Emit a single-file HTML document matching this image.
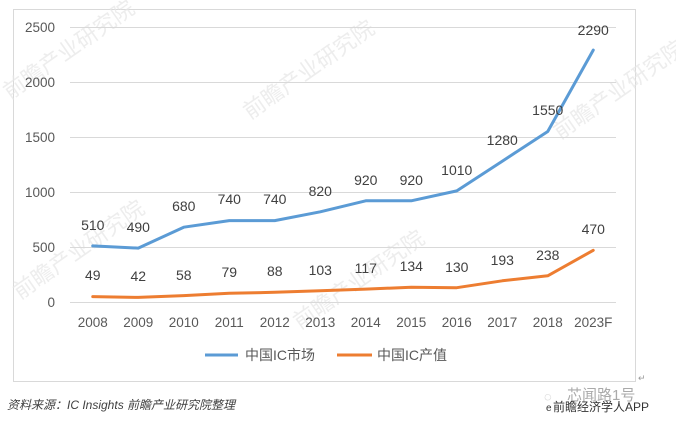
<!DOCTYPE html>
<html><head><meta charset="utf-8"><style>
html,body{margin:0;padding:0;background:#fff;}
svg{display:block;}
text{font-family:"Liberation Sans","Noto Sans CJK SC",sans-serif;}
</style></head><body>
<svg width="676" height="430" viewBox="0 0 676 430" xmlns="http://www.w3.org/2000/svg">
<rect x="0" y="0" width="676" height="430" fill="#fff"/>
<rect x="13.5" y="9.5" width="622" height="372" fill="#fff" stroke="#d9d9d9" stroke-width="1"/>
<!-- watermarks -->
<g fill="#e6e6e6" font-size="22" opacity="0.7">
<text x="10" y="100" transform="rotate(-35 10 100)">前瞻产业研究院</text>
<text x="250" y="120" transform="rotate(-35 250 120)">前瞻产业研究院</text>
<text x="560" y="140" transform="rotate(-35 560 140)">前瞻产业研究院</text>
<text x="20" y="300" transform="rotate(-35 20 300)">前瞻产业研究院</text>
<text x="300" y="330" transform="rotate(-35 300 330)">前瞻产业研究院</text>
</g>
<!-- gridlines -->
<g stroke="#d9d9d9" stroke-width="1">
<line x1="70" y1="27.5" x2="616" y2="27.5"/>
<line x1="70" y1="82.5" x2="616" y2="82.5"/>
<line x1="70" y1="137.5" x2="616" y2="137.5"/>
<line x1="70" y1="192.5" x2="616" y2="192.5"/>
<line x1="70" y1="247.5" x2="616" y2="247.5"/>
<line x1="70" y1="302.5" x2="616" y2="302.5"/>
</g>
<!-- y labels -->
<g fill="#595959" font-size="13.5" text-anchor="end">
<text x="55" y="32">2500</text>
<text x="55" y="87">2000</text>
<text x="55" y="142">1500</text>
<text x="55" y="197">1000</text>
<text x="55" y="252">500</text>
<text x="55" y="307">0</text>
</g>
<!-- x labels -->
<g fill="#595959" font-size="13.5" text-anchor="middle">
<text x="92.75" y="327">2008</text>
<text x="138.25" y="327">2009</text>
<text x="183.75" y="327">2010</text>
<text x="229.25" y="327">2011</text>
<text x="274.75" y="327">2012</text>
<text x="320.25" y="327">2013</text>
<text x="365.75" y="327">2014</text>
<text x="411.25" y="327">2015</text>
<text x="456.75" y="327">2016</text>
<text x="502.25" y="327">2017</text>
<text x="547.75" y="327">2018</text>
<text x="593.25" y="327">2023F</text>
</g>
<!-- series -->
<polyline fill="none" stroke="#5b9bd5" stroke-width="3" stroke-linejoin="round" stroke-linecap="round"
points="92.75,245.9 138.25,248.1 183.75,227.2 229.25,220.6 274.75,220.6 320.25,211.8 365.75,200.8 411.25,200.8 456.75,190.9 502.25,161.2 547.75,131.5 593.25,50.1"/>
<polyline fill="none" stroke="#ed7d31" stroke-width="3" stroke-linejoin="round" stroke-linecap="round"
points="92.75,296.6 138.25,297.4 183.75,295.6 229.25,293.3 274.75,292.3 320.25,290.7 365.75,289.1 411.25,287.3 456.75,287.7 502.25,280.8 547.75,275.8 593.25,250.3"/>
<!-- data labels blue -->
<g fill="#404040" font-size="14" text-anchor="middle">
<text x="92.75" y="230">510</text>
<text x="138.25" y="232">490</text>
<text x="183.75" y="211">680</text>
<text x="229.25" y="204">740</text>
<text x="274.75" y="204">740</text>
<text x="320.25" y="196">820</text>
<text x="365.75" y="185">920</text>
<text x="411.25" y="185">920</text>
<text x="456.75" y="175">1010</text>
<text x="502.25" y="145">1280</text>
<text x="547.75" y="115">1550</text>
<text x="593.25" y="35">2290</text>
</g>
<!-- data labels orange -->
<g fill="#404040" font-size="14" text-anchor="middle">
<text x="92.75" y="280">49</text>
<text x="138.25" y="281">42</text>
<text x="183.75" y="280">58</text>
<text x="229.25" y="277">79</text>
<text x="274.75" y="276">88</text>
<text x="320.25" y="275">103</text>
<text x="365.75" y="273">117</text>
<text x="411.25" y="271">134</text>
<text x="456.75" y="272">130</text>
<text x="502.25" y="265">193</text>
<text x="547.75" y="260">238</text>
<text x="593.25" y="234">470</text>
</g>
<!-- legend -->
<line x1="205" y1="355" x2="238" y2="355" stroke="#5b9bd5" stroke-width="3"/>
<text x="245" y="360" fill="#595959" font-size="14">中国IC市场</text>
<line x1="337" y1="355" x2="372" y2="355" stroke="#ed7d31" stroke-width="3"/>
<text x="377" y="360" fill="#595959" font-size="14">中国IC产值</text>
<!-- source -->
<text x="7" y="409" fill="#404040" font-size="12" font-style="italic">资料来源：IC Insights 前瞻产业研究院整理</text>
<text x="638" y="381" fill="#999" font-size="9">↵</text>
<!-- bottom right watermark -->
<text x="567" y="400" fill="#aaa" font-size="15">芯闻路1号</text>
<text x="544" y="401" fill="#bbb" font-size="13">◌</text>
<text x="546" y="411" fill="#333" font-size="10">e</text>
<text x="553" y="411" fill="#333" font-size="12">前瞻经济学人APP</text>
</svg>
</body></html>
